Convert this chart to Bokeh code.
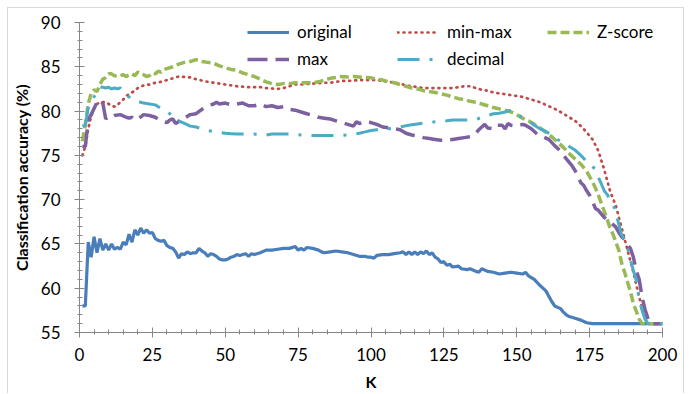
from bokeh.plotting import figure
from bokeh.models import Range1d, SingleIntervalTicker, Legend, LegendItem
from bokeh.embed import file_html
from bokeh.resources import INLINE

# ---- data ----
k_original = [1, 2, 3, 4, 5, 6, 7, 8, 9, 10, 11, 12, 13, 14, 15, 16, 17, 18, 19, 20,
              21, 22, 23, 24, 25, 26, 27, 28, 29, 30, 31, 32, 33, 34, 35, 36, 37, 38, 39, 40,
              41, 42, 43, 44, 45, 46, 47, 48, 49, 50, 51, 52, 53, 54, 55, 56, 57, 58, 59, 60,
              62, 64, 66, 68, 70, 72, 74, 75, 76, 77, 78, 80, 82, 83, 84, 86, 88, 90, 92, 94,
              96, 98, 99, 100, 101, 102, 104, 106, 108, 110, 111, 112, 113, 114, 115, 116, 117, 118, 119, 120,
              121, 122, 123, 124, 125, 126, 127, 128, 130, 131, 133, 134, 136, 137, 138, 140, 142, 144, 146, 148,
              150, 152, 153, 154, 156, 158, 160, 161, 162, 163, 165, 166, 167, 168, 170, 172, 174, 176, 178, 200]
original = [58, 58, 65.2, 63.5, 65.8, 64, 65.6, 64.3, 65, 64.3, 65, 64.4, 64.6, 64.4, 65.2, 64.9, 66.1, 65.2, 66.6, 66,
            66.8, 66.2, 66.6, 66.2, 66.3, 65.6, 65.4, 65.3, 65.4, 64.8, 64.6, 64.5, 64.1, 63.4, 63.9, 63.8, 64.1, 63.9, 64, 64,
            64.5, 64.2, 64, 63.6, 63.9, 63.8, 63.6, 63.3, 63.2, 63.2, 63.3, 63.5, 63.6, 63.8, 63.7, 63.8, 63.9, 63.6, 63.9, 63.8,
            64, 64.3, 64.3, 64.4, 64.5, 64.5, 64.7, 64.3, 64.5, 64.3, 64.6, 64.5, 64.3, 64.1, 64, 64.1, 64.2, 64.1, 64, 63.8,
            63.6, 63.6, 63.5, 63.5, 63.4, 63.7, 63.8, 63.8, 63.9, 64, 64.1, 63.8, 64.1, 63.8, 64.1, 63.8, 64.1, 63.9, 64.2, 63.8,
            64.0, 63.5, 63.3, 62.9, 63, 62.6, 62.7, 62.4, 62.5, 62.2, 62.1, 62.2, 61.9, 61.8, 62.2, 61.9, 61.8, 61.6, 61.7, 61.8,
            61.7, 61.6, 61.8, 61.4, 61, 60.3, 59.7, 59.1, 58.5, 58.0, 57.7, 57.3, 57.0, 56.8, 56.6, 56.4, 56.1, 56.0, 56, 56]

k_max = [1, 2, 3, 4, 5, 6, 7, 8, 9, 10, 11, 12, 14, 16, 17, 18, 19, 20, 22, 24,
         26, 28, 30, 31, 32, 33, 34, 35, 36, 38, 40, 42, 44, 46, 47, 48, 50, 52, 54, 56,
         58, 60, 62, 64, 66, 68, 70, 72, 74, 76, 78, 80, 82, 84, 86, 88, 90, 92, 94, 95,
         96, 98, 100, 102, 104, 106, 108, 110, 112, 114, 116, 118, 120, 122, 124, 126, 128, 130, 132, 134,
         136, 137, 138, 139, 140, 142, 143, 145, 146, 147, 148, 150, 152, 153, 155, 157, 159, 161, 163, 165,
         167, 169, 170, 171, 172, 173, 174, 175, 176, 177, 178, 179, 180, 182, 184, 185, 186, 187, 188, 189,
         190, 191, 192, 193, 194, 195, 196, 200]
max_norm = [76, 76, 79, 79.6, 80.3, 81, 80.6, 80.9, 79.1, 79.4, 79.3, 79.5, 79.6, 79.3, 79.2, 79.3, 79.0, 79.1, 79.6, 79.5,
            79.3, 78.9, 78.7, 79.0, 79.1, 78.6, 78.8, 79.3, 79.2, 79.6, 79.7, 80.2, 80.6, 80.8, 81.0, 80.8, 80.9, 80.7, 80.8, 80.9,
            80.6, 80.6, 80.8, 80.5, 80.6, 80.4, 80.5, 80.2, 80.1, 79.9, 79.7, 79.5, 79.3, 79.2, 79.1, 78.9, 78.7, 78.5, 78.3, 78.8,
            78.6, 78.8, 78.7, 78.5, 78.2, 78.1, 78.0, 77.9, 77.5, 77.3, 77.2, 77.0, 76.9, 76.8, 76.7, 76.7, 76.8, 76.9, 77.0, 77.1,
            77.5, 77.9, 78.2, 78.5, 78.1, 78.0, 78.4, 78.4, 78.0, 78.6, 78.4, 78.3, 78.5, 78.4, 78.0, 77.4, 77.1, 76.8, 76.1, 75.5,
            74.6, 73.8, 73.3, 72.6, 71.9, 71.6, 71.0, 70.5, 69.8, 69.0, 68.8, 68.4, 68.0, 67.5, 66.9, 66.3, 65.8, 65.5, 64.9, 64.5,
            63.5, 62.0, 61.0, 59.0, 57.6, 56.6, 56, 56]

k_minmax = [1, 2, 3, 4, 5, 6, 7, 8, 9, 10, 11, 12, 13, 14, 15, 16, 17, 18, 19, 20,
            22, 24, 26, 28, 30, 32, 34, 36, 38, 40, 42, 44, 46, 48, 50, 52, 54, 56, 58, 60,
            62, 64, 66, 68, 70, 72, 74, 76, 78, 80, 82, 84, 86, 88, 90, 92, 94, 96, 98, 100,
            102, 104, 106, 108, 110, 112, 114, 116, 118, 120, 122, 124, 126, 128, 130, 132, 134, 136, 138, 140,
            142, 144, 146, 148, 150, 152, 154, 156, 158, 160, 162, 164, 166, 168, 170, 172, 174, 176, 178, 180,
            182, 184, 186, 188, 190, 192, 194, 195, 200]
minmax = [75, 76, 78, 79.4, 80.3, 80.8, 81, 81, 81, 80.8, 80.6, 80.5, 80.7, 81, 81.3, 81.7, 81.9, 82.1, 82.3, 82.6,
          82.9, 83.0, 83.2, 83.3, 83.5, 83.7, 83.9, 83.85, 83.8, 83.6, 83.45, 83.3, 83.2, 83.1, 83.0, 82.9, 82.8, 82.75, 82.7, 82.7,
          82.7, 82.6, 82.55, 82.5, 82.6, 82.8, 83.0, 83.0, 83.05, 83.1, 83.15, 83.2, 83.2, 83.3, 83.4, 83.4, 83.45, 83.5, 83.5, 83.5,
          83.5, 83.4, 83.3, 83.2, 83.1, 82.9, 82.8, 82.7, 82.6, 82.6, 82.6, 82.6, 82.6, 82.6, 82.7, 82.8, 82.8, 82.6, 82.4, 82.3,
          82.1, 82.0, 81.9, 81.8, 81.7, 81.6, 81.4, 81.2, 81.0, 80.7, 80.4, 80.1, 79.7, 79.3, 78.9, 78.3, 77.6, 76.8, 75.5, 73.4,
          71.0, 69.3, 66.8, 64.3, 61.8, 59.0, 56.6, 56, 56]

k_decimal = [1, 2, 3, 4, 5, 6, 7, 8, 9, 10, 11, 12, 13, 14, 15, 16, 17, 18, 20, 22,
             24, 26, 28, 30, 32, 34, 36, 38, 40, 42, 44, 46, 48, 50, 52, 54, 56, 58, 60, 62,
             64, 66, 68, 70, 72, 74, 76, 78, 80, 84, 88, 90, 92, 94, 96, 98, 100, 102, 104, 106,
             108, 110, 112, 114, 116, 118, 120, 122, 124, 126, 128, 130, 132, 134, 136, 138, 140, 142, 144, 146,
             148, 150, 152, 154, 156, 158, 160, 162, 164, 166, 168, 170, 172, 174, 176, 177, 178, 179, 180, 181,
             182, 183, 184, 185, 186, 187, 188, 189, 190, 191, 192, 193, 194, 195, 200]
decimal = [78.3, 78.4, 80.4, 81.0, 81.6, 82.2, 82.7, 82.7, 82.6, 82.7, 82.5, 82.6, 82.5, 82.6, 82.2, 81.8, 81.6, 81.3, 81.1, 80.9,
           80.8, 80.7, 80.3, 80.0, 79.4, 78.9, 78.6, 78.3, 78.2, 78.0, 77.8, 77.7, 77.6, 77.5, 77.45, 77.4, 77.4, 77.4, 77.4, 77.3,
           77.3, 77.4, 77.4, 77.4, 77.4, 77.35, 77.3, 77.25, 77.25, 77.25, 77.25, 77.25, 77.3, 77.4, 77.5, 77.65, 77.8, 77.9, 77.95, 78.0,
           78.05, 78.2, 78.35, 78.45, 78.55, 78.65, 78.7, 78.8, 78.85, 78.9, 79.0, 79.0, 79.0, 79.0, 79.05, 79.3, 79.5, 79.7, 79.75, 79.9,
           80.1, 79.6, 79.3, 78.9, 78.4, 78.0, 77.7, 77.3, 76.8, 76.4, 76.0, 75.6, 75.0, 74.3, 73.8, 73.3, 72.5, 71.8, 71.0, 70.6,
           70.0, 69.5, 68.6, 67.2, 66.0, 65.4, 64.5, 63.2, 62.0, 60.9, 58.7, 57.5, 56.5, 56, 56]

k_zscore = [1, 2, 3, 4, 5, 6, 7, 8, 9, 10, 11, 12, 13, 14, 15, 16, 17, 18, 19, 20,
            21, 22, 23, 24, 25, 26, 27, 28, 29, 30, 32, 34, 36, 38, 40, 42, 44, 46, 48, 50,
            52, 54, 56, 58, 60, 62, 64, 66, 68, 70, 72, 74, 76, 78, 80, 82, 84, 86, 88, 90,
            92, 94, 96, 98, 100, 102, 104, 106, 108, 110, 112, 114, 116, 118, 120, 122, 124, 126, 128, 130,
            132, 134, 136, 138, 140, 142, 144, 146, 148, 150, 152, 154, 156, 158, 160, 162, 164, 166, 168, 170,
            172, 174, 176, 177, 178, 179, 180, 181, 182, 183, 184, 185, 186, 187, 188, 189, 190, 191, 192, 193, 200]
zscore = [76.6, 78.5, 80.8, 82.0, 82.4, 82.2, 83.0, 83.6, 83.8, 84.2, 84.2, 84.0, 83.9, 84.0, 84.1, 83.9, 84.1, 84.2, 84.0, 84.4,
          84.2, 84.1, 83.9, 84.0, 84.3, 84.2, 84.5, 84.4, 84.7, 84.8, 85.0, 85.3, 85.5, 85.6, 85.8, 85.6, 85.5, 85.4, 85.1, 84.9,
          84.7, 84.6, 84.3, 84.1, 83.9, 83.6, 83.3, 83.1, 83.0, 83.1, 83.1, 83.2, 83.2, 83.2, 83.2, 83.3, 83.5, 83.7, 83.8, 83.9,
          83.85, 83.9, 83.85, 83.8, 83.75, 83.6, 83.5, 83.3, 83.2, 83.0, 82.8, 82.6, 82.5, 82.3, 82.2, 82.1, 81.95, 81.8, 81.6, 81.4,
          81.3, 81.1, 81.0, 80.8, 80.6, 80.4, 80.25, 80.1, 79.9, 79.6, 79.2, 78.9, 78.5, 78.1, 77.6, 77.1, 76.5, 75.9, 75.2, 74.6,
          74.0, 73.2, 72.0, 71.3, 70.5, 69.6, 68.7, 67.8, 66.8, 66.1, 65.2, 64.3, 62.8, 61.8, 60.7, 59.6, 58.3, 57.4, 56.5, 56, 56]

FONT = "Lato"

p = figure(frame_width=583, frame_height=310, output_backend="svg", toolbar_location=None,
           x_range=Range1d(0, 200), y_range=Range1d(55, 90),
           min_border_left=67, min_border_right=21, min_border_top=14, min_border_bottom=54)
p.styles = {"margin-left": "7px", "margin-top": "7px",
            "border-top": "1px solid #d9d9d9", "border-left": "1px solid #d9d9d9",
            "border-right": "1px solid #d9d9d9"}
p.outline_line_color = None
p.xgrid.visible = False
p.ygrid.visible = False

p.xaxis.ticker = SingleIntervalTicker(interval=25, num_minor_ticks=5)
p.yaxis.ticker = SingleIntervalTicker(interval=5, num_minor_ticks=5)
for ax in (p.xaxis[0], p.yaxis[0]):
    ax.axis_line_color = "#868686"
    ax.major_tick_line_color = "#868686"
    ax.minor_tick_line_color = "#868686"
    ax.major_tick_in = 5
    ax.major_tick_out = 5
    ax.minor_tick_in = 3
    ax.minor_tick_out = 2
    ax.major_label_text_font = FONT
    ax.major_label_text_font_size = "17px"
    ax.major_label_text_color = "#000000"
    ax.axis_label_text_font = FONT
    ax.axis_label_text_font_size = "16px"
    ax.axis_label_text_font_style = "bold"
    ax.axis_label_text_color = "#000000"
p.yaxis.major_label_standoff = 14
p.xaxis.major_label_standoff = 10
p.xaxis.axis_label = "K"
p.yaxis.axis_label = "Classification accuracy (%)"
p.xaxis.axis_label_standoff = 8
p.yaxis.axis_label_standoff = 7

r_orig = p.line(k_original, original, line_color="#4A7EBB", line_width=3.2)
r_minmax = p.line(k_minmax, minmax, line_color="#BE4B48", line_width=2.7,
                  line_dash="1 5", line_cap="round")
r_z = p.line(k_zscore, zscore, line_color="#98B954", line_width=3.5, line_dash="9 4")
r_max = p.line(k_max, max_norm, line_color="#7D60A0", line_width=3.5, line_dash="20 8")
r_dec = p.line(k_decimal, decimal, line_color="#4BACC6", line_width=3, line_dash="22 10 3 10")

common = dict(orientation="horizontal", padding=0, margin=0, spacing=10,
              glyph_width=42, glyph_height=20, label_standoff=8, label_width=90,
              label_text_font=FONT, label_text_font_size="17px", label_text_color="#000000",
              background_fill_alpha=0, border_line_color=None)
leg1 = Legend(items=[LegendItem(label="original", renderers=[r_orig]),
                     LegendItem(label="min-max", renderers=[r_minmax]),
                     LegendItem(label="Z-score", renderers=[r_z])],
              location=(168, 290), **common)
leg2 = Legend(items=[LegendItem(label="max", renderers=[r_max]),
                     LegendItem(label="decimal", renderers=[r_dec])],
              location=(168, 263), **common)
p.add_layout(leg1)
p.add_layout(leg2)

open("out.html", "w").write(file_html(p, INLINE))
